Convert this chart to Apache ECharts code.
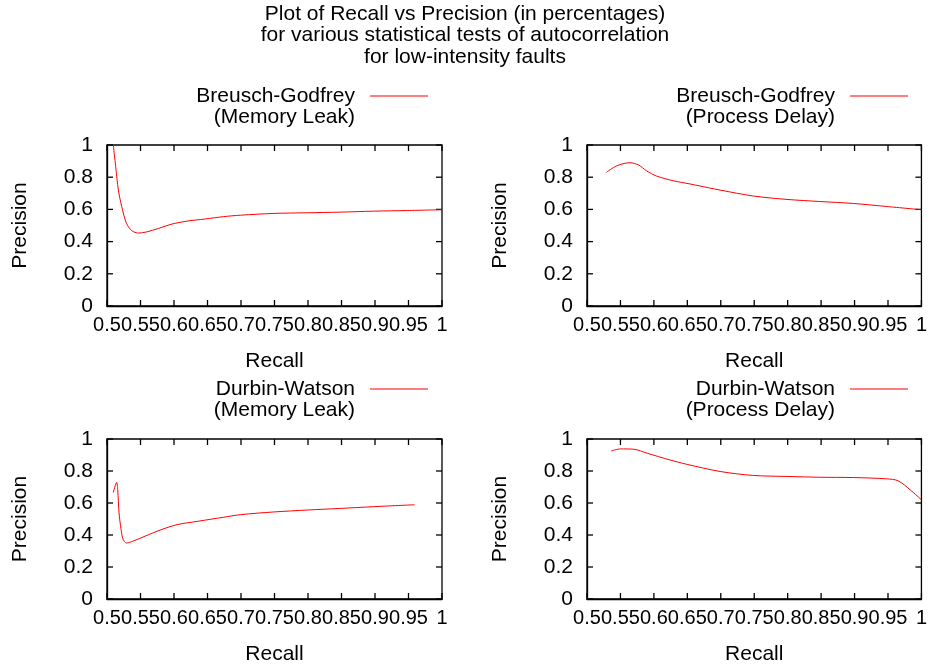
<!DOCTYPE html>
<html>
<head>
<meta charset="utf-8">
<script src="https://cdn.jsdelivr.net/npm/echarts@6/dist/echarts.min.js"></script>
<style>
  html, body { margin: 0; padding: 0; background: #fff; }
  #chart { width: 930px; height: 666px; }
</style>
</head>
<body>
<div id="chart"></div>
<script>
const FONT = '"Liberation Sans", Arial, Helvetica, sans-serif';

const titleLines = [
  'Plot of Recall vs Precision (in percentages)',
  'for various statistical tests of autocorrelation',
  'for low-intensity faults'
];

const panelNames = [
  'Breusch-Godfrey\n(Memory Leak)',
  'Breusch-Godfrey\n(Process Delay)',
  'Durbin-Watson\n(Memory Leak)',
  'Durbin-Watson\n(Process Delay)'
];

// Breusch-Godfrey, memory leak
const bgMemRecall = [0.5094, 0.513, 0.517, 0.522, 0.529, 0.537, 0.547, 0.559, 0.577, 0.597,
  0.621, 0.646, 0.674, 0.699, 0.749, 0.799, 0.848, 0.898, 0.948, 1.0];
const bgMemPrecision = [1.0, 0.865, 0.72, 0.617, 0.514, 0.468, 0.453, 0.46, 0.482, 0.509,
  0.528, 0.540, 0.555, 0.564, 0.575, 0.579, 0.583, 0.589, 0.593, 0.598];

// Breusch-Godfrey, process delay
const bgDelayRecall = [0.529, 0.544, 0.564, 0.577, 0.589, 0.604, 0.629, 0.654, 0.681, 0.699,
  0.749, 0.799, 0.848, 0.898, 0.948, 1.0];
const bgDelayPrecision = [0.830, 0.870, 0.890, 0.876, 0.840, 0.807, 0.778, 0.758, 0.735, 0.720,
  0.683, 0.662, 0.649, 0.637, 0.618, 0.598];

// Durbin-Watson, memory leak
const dwMemRecall = [0.5094, 0.5145, 0.516, 0.518, 0.521, 0.524, 0.529, 0.539, 0.557, 0.582,
  0.606, 0.636, 0.674, 0.699, 0.749, 0.799, 0.848, 0.898, 0.959];
const dwMemPrecision = [0.666, 0.729, 0.683, 0.538, 0.435, 0.373, 0.350, 0.362, 0.393, 0.435,
  0.466, 0.486, 0.511, 0.527, 0.544, 0.556, 0.566, 0.577, 0.589];

// Durbin-Watson, process delay
const dwDelayRecall = [0.536, 0.550, 0.570, 0.590, 0.624, 0.649, 0.699, 0.749, 0.799, 0.848,
  0.898, 0.948, 0.965, 0.983, 1.0];
const dwDelayPrecision = [0.925, 0.938, 0.936, 0.911, 0.869, 0.842, 0.797, 0.772, 0.766, 0.761,
  0.759, 0.751, 0.739, 0.683, 0.620];

// tick values of both axes
const recallTickValues = [0.5, 0.55, 0.6, 0.65, 0.7, 0.75, 0.8, 0.85, 0.9, 0.95, 1];
const precisionTickValues = [0, 0.2, 0.4, 0.6, 0.8, 1];

const panelData = [
  [bgMemRecall, bgMemPrecision],
  [bgDelayRecall, bgDelayPrecision],
  [dwMemRecall, dwMemPrecision],
  [dwDelayRecall, dwDelayPrecision]
];

// plot box position of each panel, and where its legend key sits
const panels = [
  { left: 107, top: 145, legendRight: 502, legendIconY: 96 },
  { left: 587, top: 145, legendRight: 22, legendIconY: 96 },
  { left: 107, top: 439, legendRight: 502, legendIconY: 389 },
  { left: 587, top: 439, legendRight: 22, legendIconY: 389 }
];
const plotW = 335;
const plotH = 161;
const FS = 21;
const LH = 21;
const TICK_LEN = 6;

const xMin = recallTickValues[0], xMax = recallTickValues[recallTickValues.length - 1];
const yMin = precisionTickValues[0], yMax = precisionTickValues[precisionTickValues.length - 1];

const fmt = v => String(Math.round(v * 100) / 100);
const textStyle = () => ({ fontFamily: FONT, fontSize: FS, color: '#000' });
const axisLine = () => ({ show: true, onZero: false, lineStyle: { color: '#000', width: 1.3 } });
const hidden = { show: false };

// gnuplot style inward ticks on all four sides, placed through the axes' scales
const tickStyle = { stroke: '#000', lineWidth: 1.3 };
function renderTicks(params, api) {
  const kind = api.value(2);
  const v = kind === 0 ? api.value(0) : api.value(1);
  if (kind === 0) {
    const b = api.coord([v, yMin]);
    const t = api.coord([v, yMax]);
    return {
      type: 'group',
      children: [
        { type: 'line', shape: { x1: b[0], y1: b[1], x2: b[0], y2: b[1] - TICK_LEN }, style: tickStyle },
        { type: 'line', shape: { x1: t[0], y1: t[1], x2: t[0], y2: t[1] + TICK_LEN }, style: tickStyle }
      ]
    };
  }
  const l = api.coord([xMin, v]);
  const r = api.coord([xMax, v]);
  return {
    type: 'group',
    children: [
      { type: 'line', shape: { x1: l[0], y1: l[1], x2: l[0] + TICK_LEN, y2: l[1] }, style: tickStyle },
      { type: 'line', shape: { x1: r[0], y1: r[1], x2: r[0] - TICK_LEN, y2: r[1] }, style: tickStyle }
    ]
  };
}
const tickItems = recallTickValues.map(v => [v, yMin, 0])
  .concat(precisionTickValues.map(v => [xMin, v, 1]));

const grid = [], xAxis = [], yAxis = [], series = [], legend = [];

panels.forEach((p, i) => {
  grid.push({
    left: p.left, top: p.top, width: plotW, height: plotH,
    show: true, borderColor: '#000', borderWidth: 1.3, backgroundColor: 'transparent'
  });

  xAxis.push({
    type: 'value', gridIndex: i, min: xMin, max: xMax, interval: 0.05,
    name: 'Recall', nameLocation: 'middle', nameGap: 45,
    nameTextStyle: textStyle(),
    axisLine: axisLine(), axisTick: hidden, splitLine: hidden,
    axisLabel: { show: true, margin: 9, ...textStyle(), fontSize: 20, formatter: fmt }
  });
  yAxis.push({
    type: 'value', gridIndex: i, min: yMin, max: yMax, interval: 0.2,
    name: 'Precision', nameLocation: 'middle', nameGap: 76, nameRotate: 90,
    nameTextStyle: textStyle(),
    axisLine: axisLine(), axisTick: hidden, splitLine: hidden,
    axisLabel: { show: true, margin: 14, ...textStyle(), formatter: fmt }
  });

  const [rec, prec] = panelData[i];
  series.push({
    name: panelNames[i],
    type: 'line',
    xAxisIndex: i,
    yAxisIndex: i,
    data: rec.map((r, k) => [r, prec[k]]),
    showSymbol: false,
    smooth: 0.3,
    lineStyle: { color: '#ff0000', width: 1 },
    itemStyle: { color: '#ff0000' },
    silent: true
  });
  series.push({
    type: 'custom',
    xAxisIndex: i,
    yAxisIndex: i,
    data: tickItems,
    renderItem: renderTicks,
    clip: false,
    silent: true
  });

  // blank first line so the key sits level with the first text line
  legend.push({
    data: [panelNames[i]],
    formatter: name => '\u00a0\n' + name,
    right: p.legendRight,
    top: p.legendIconY - 1.5 * LH,
    padding: 0,
    align: 'right',
    icon: 'rect',
    itemWidth: 58,
    itemHeight: 1,
    selectedMode: false,
    textStyle: { ...textStyle(), lineHeight: LH, padding: [0, 10, 0, 0] }
  });
});

const chart = echarts.init(document.getElementById('chart'), null, { renderer: 'canvas' });
chart.setOption({
  animation: false,
  backgroundColor: '#fff',
  title: {
    text: titleLines.join('\n'),
    left: 'center',
    top: 3,
    padding: 0,
    textStyle: { ...textStyle(), fontWeight: 'normal', lineHeight: 21.5 }
  },
  legend,
  grid,
  xAxis,
  yAxis,
  series
});
</script>
</body>
</html>
